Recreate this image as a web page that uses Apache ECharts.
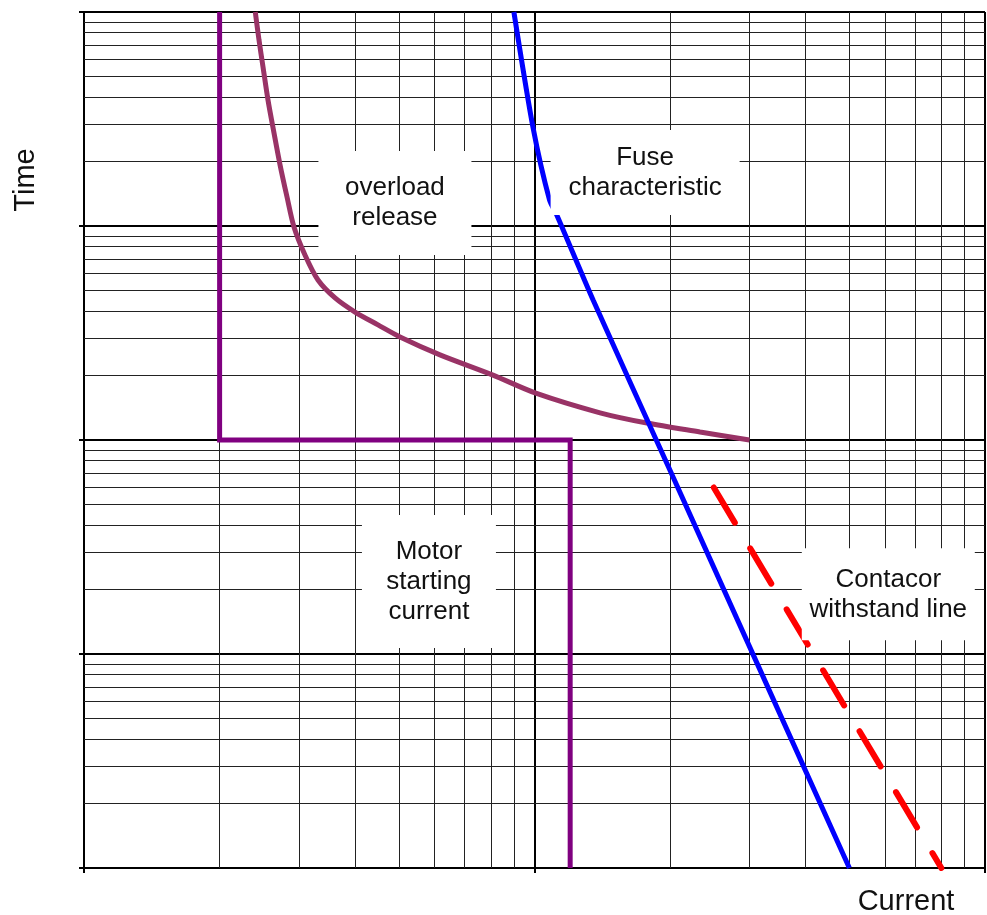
<!DOCTYPE html>
<html>
<head>
<meta charset="utf-8">
<script src="https://cdn.jsdelivr.net/npm/echarts@6/dist/echarts.min.js"></script>
<style>
html,body{margin:0;padding:0;background:#fff;}
#chart{width:987px;height:915px;}
</style>
</head>
<body>
<div id="chart"></div>
<script>
// ---- data (current in multiples, time in arbitrary log units) ----
const xMinorTicks = [2, 3, 4, 5, 6, 7, 8, 9, 20, 30, 40, 50, 60, 70, 80, 90];
const yMinorTicks = [0.02, 0.03, 0.04, 0.05, 0.06, 0.07, 0.08, 0.09,
                     0.2, 0.3, 0.4, 0.5, 0.6, 0.7, 0.8, 0.9,
                     2, 3, 4, 5, 6, 7, 8, 9,
                     20, 30, 40, 50, 60, 70, 80, 90];
const motorStarting = [[2, 100], [2, 1], [12, 1], [12, 0.01]];
const overloadRelease = [
  [2.4, 100], [2.446, 74.0], [2.497, 55.3], [2.561, 38.8], [2.641, 27.2], [2.724, 19.3],
  [2.822, 13.7], [2.925, 9.89], [3.094, 7.32], [3.307, 5.59], [3.608, 4.61], [3.996, 3.96],
  [4.494, 3.45], [5.029, 3.03], [6.169, 2.5], [8.088, 2.01], [10.03, 1.66], [13.98, 1.34],
  [17.77, 1.2], [23.3, 1.09], [30, 1.0]
];
const fuseChar = [[9.0, 100], [9.92, 29], [10.8, 13.2], [11.2, 11.3], [13.5, 4.5], [20, 0.72], [50, 0.01]];
const contactorLine = [[25, 0.6], [80, 0.01]];
const labelTexts = ['overload\nrelease', 'Fuse\ncharacteristic', 'Motor\nstarting\ncurrent', 'Contacor\nwithstand line'];
const labelAnchors = [[4.9, 12.8], [17.6, 17.8], [5.83, 0.218], [61, 0.19]];

// ---- styles ----
const FONT = '"Liberation Sans", Arial, sans-serif';
const labelBoxes = [
  {width: 153, padding: [22, 0, 22, 0]},
  {width: 189, padding: [13, 0, 12, 0]},
  {width: 134, padding: [22, 0, 21, 0]},
  {width: 173, padding: [5, 0, 27, 0]}
];

const chart = echarts.init(document.getElementById('chart'), null, {renderer: 'canvas'});

const minorLineStyle = {type: 'solid', color: '#222', width: 1};
const markerCommon = {
  silent: true, symbol: 'none', animation: false, z: 1,
  label: {show: false}, emphasis: {disabled: true},
  lineStyle: minorLineStyle
};

const option = {
  animation: false,
  backgroundColor: '#fff',
  grid: {left: 84, right: 2, top: 12, bottom: 47, containLabel: false},
  xAxis: {
    type: 'log', logBase: 10, min: 1, max: 100,
    axisLine: {show: true, lineStyle: {color: '#000', width: 2}},
    axisTick: {show: true, length: 5, lineStyle: {color: '#000', width: 2}},
    axisLabel: {show: false},
    splitLine: {show: true, lineStyle: {color: '#000', width: 2}},
    minorTick: {show: false}, minorSplitLine: {show: false}
  },
  yAxis: {
    type: 'log', logBase: 10, min: 0.01, max: 100,
    axisLine: {show: true, lineStyle: {color: '#000', width: 2}},
    axisTick: {show: true, length: 5, lineStyle: {color: '#000', width: 2}},
    axisLabel: {show: false},
    splitLine: {show: true, lineStyle: {color: '#000', width: 2}},
    minorTick: {show: false}, minorSplitLine: {show: false}
  },
  graphic: [
    {type: 'text', x: 26, y: 180, rotation: Math.PI / 2, silent: true,
     style: {text: 'Time', fontSize: 29, fontFamily: FONT, fill: '#111',
             align: 'center', verticalAlign: 'middle', textAlign: 'center', textVerticalAlign: 'middle'}},
    {type: 'text', x: 906, y: 902, silent: true,
     style: {text: 'Current', fontSize: 29, fontFamily: FONT, fill: '#111',
             align: 'center', verticalAlign: 'middle', textAlign: 'center', textVerticalAlign: 'middle'}}
  ],
  series: [
    {
      name: 'grid', type: 'line', data: [], silent: true, z: 1,
      markLine: Object.assign({}, markerCommon, {
        data: xMinorTicks.map(v => ({xAxis: v})).concat(yMinorTicks.map(v => ({yAxis: v})))
      })
    },
    {
      name: 'Motor starting current', type: 'line', data: motorStarting, z: 3,
      showSymbol: false, symbol: 'none', silent: true,
      lineStyle: {color: '#800080', width: 5, join: 'miter', cap: 'butt'}
    },
    {
      name: 'overload release', type: 'line', data: overloadRelease, z: 3,
      showSymbol: false, symbol: 'none', smooth: 0.3, silent: true,
      lineStyle: {color: '#993366', width: 5}
    },
    {
      name: 'Fuse characteristic', type: 'line', data: fuseChar, z: 3,
      showSymbol: false, symbol: 'none', smooth: 0.25, silent: true,
      lineStyle: {color: '#0000ff', width: 5}
    },
    {
      name: 'Contacor withstand line', type: 'line', data: contactorLine, z: 3,
      showSymbol: false, symbol: 'none', silent: true,
      lineStyle: {color: '#ff0000', width: 6, type: [41, 30], cap: 'round'}
    },
    {
      name: 'labels', type: 'scatter', z: 10, silent: true, symbolSize: 0,
      itemStyle: {opacity: 1},
      data: labelTexts.map((t, i) => ({
        name: t, value: labelAnchors[i],
        itemStyle: {opacity: 1},
        label: {
          show: true, position: 'inside', formatter: '{b}',
          fontSize: 26, fontFamily: FONT, color: '#111', lineHeight: 30,
          align: 'center', verticalAlign: 'middle',
          backgroundColor: '#fff', opacity: 1,
          width: labelBoxes[i].width, padding: labelBoxes[i].padding
        }
      }))
    }
  ]
};

chart.setOption(option);
</script>
</body>
</html>
